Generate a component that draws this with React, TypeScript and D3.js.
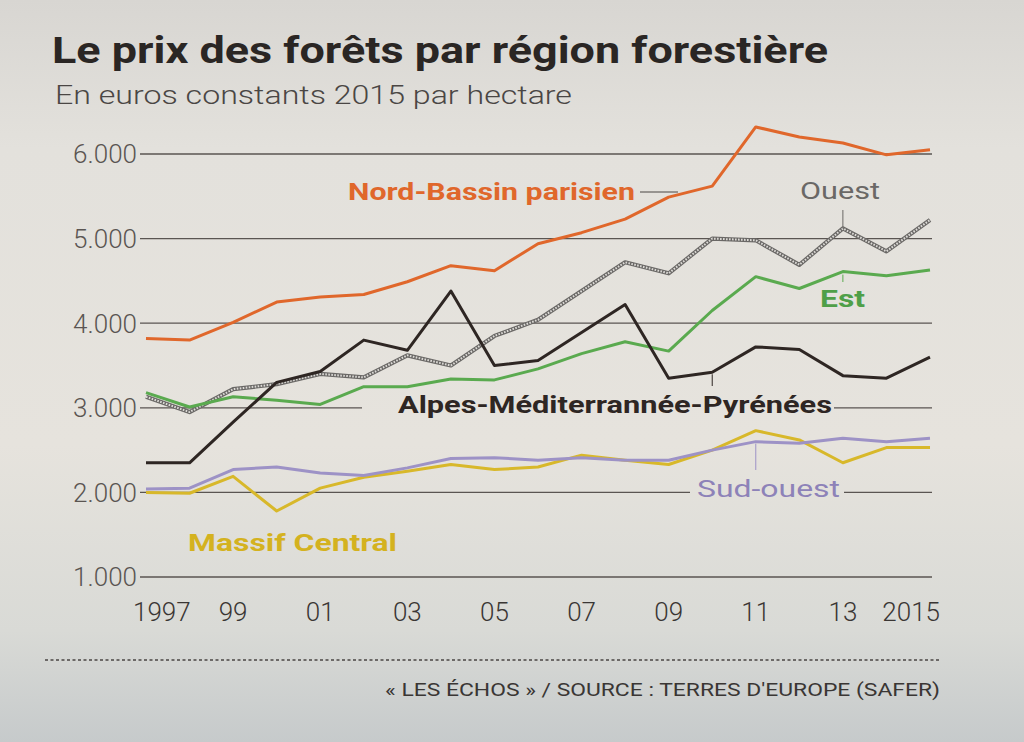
import React from "react";
import * as d3 from "d3";

const years = d3.range(1997, 2016);

const nordBassin = [3820, 3800, 4010, 4250, 4310, 4340, 4490, 4680, 4620, 4940, 5070, 5230, 5490, 5620, 6320, 6200, 6130, 5990, 6050];
const ouest = [3130, 2950, 3220, 3280, 3400, 3360, 3620, 3500, 3850, 4040, 4380, 4720, 4590, 5000, 4980, 4690, 5120, 4850, 5220];
const est = [3180, 3010, 3130, 3090, 3040, 3250, 3250, 3340, 3330, 3460, 3640, 3780, 3670, 4150, 4550, 4410, 4610, 4560, 4630];
const alpes = [2350, 2350, 2830, 3300, 3430, 3800, 3680, 4380, 3500, 3560, 3890, 4220, 3350, 3420, 3720, 3690, 3380, 3350, 3600];
const sudOuest = [2040, 2050, 2270, 2300, 2230, 2200, 2290, 2400, 2410, 2380, 2410, 2380, 2380, 2500, 2600, 2580, 2640, 2600, 2640];
const massifCentral = [2000, 1990, 2190, 1780, 2050, 2180, 2250, 2330, 2270, 2300, 2440, 2380, 2330, 2500, 2730, 2620, 2350, 2530, 2530];

const yTicks = [1000, 2000, 3000, 4000, 5000, 6000];
const yTickLabels = ["1.000", "2.000", "3.000", "4.000", "5.000", "6.000"];
const xTicks = [1997, 1999, 2001, 2003, 2005, 2007, 2009, 2011, 2013, 2015];
const xTickLabels = ["1997", "99", "01", "03", "05", "07", "09", "11", "13", "2015"];

const title = "Le prix des forêts par région forestière";
const subtitle = "En euros constants 2015 par hectare";
const source = "« LES ÉCHOS » / SOURCE : TERRES D'EUROPE (SAFER)";

const FONT = "Roboto, 'Open Sans', 'DejaVu Sans', sans-serif";

export default function App() {
  const W = 1024, H = 742;
  const x = d3.scaleLinear().domain([1997, 2015]).range([146, 930]);
  const y = d3.scaleLinear().domain([1000, 6000]).range([577, 154]);
  const line = d3.line<number>().x((_, i) => x(years[i])).y((d) => y(d));

  const gridX0 = 140, gridX1 = 932;

  const series = [
    { data: massifCentral, color: "#d8b82a", w: 3 },
    { data: sudOuest, color: "#9d92c6", w: 3 },
    { data: est, color: "#5aaa4f", w: 3 },
    { data: alpes, color: "#2e2623", w: 3 },
    { data: nordBassin, color: "#e0672b", w: 3 },
  ];

  return (
    <svg width={W} height={H} style={{ display: "block", position: "absolute", left: 0, top: 0 }}>
      <defs>
        <linearGradient id="bg" gradientUnits="userSpaceOnUse" x1="0" y1="0" x2="0" y2="742">
          <stop offset="0" stopColor="#d8d6d2" />
          <stop offset="0.2" stopColor="#e3e1dc" />
          <stop offset="0.6" stopColor="#e6e3dd" />
          <stop offset="0.85" stopColor="#d9dad6" />
          <stop offset="1" stopColor="#c6cacb" />
        </linearGradient>
      </defs>
      <rect x={0} y={0} width={W} height={H} fill="url(#bg)" />

      <text x={52} y={63} fontFamily={FONT} fontWeight={700} fontSize={37} fill="#2a2624" textLength={776} lengthAdjust="spacingAndGlyphs">
        {title}
      </text>
      <text x={55} y={104} fontFamily={FONT} fontWeight={300} fontSize={25} fill="#4a4644" textLength={517} lengthAdjust="spacingAndGlyphs">
        {subtitle}
      </text>

      {/* gridlines */}
      {yTicks.map((t, i) => (
        <g key={t}>
          <line x1={gridX0} x2={gridX1} y1={y(t)} y2={y(t)} stroke="#5a5552" strokeWidth={1.3} />
          <text x={137} y={y(t)} dy="0.36em" textAnchor="end" fontFamily={FONT} fontWeight={300} fontSize={26} fill="#5a5552">
            {yTickLabels[i]}
          </text>
        </g>
      ))}

      {/* x tick labels */}
      {xTicks.map((t, i) => {
        const anchor = i === 0 ? "start" : i === xTicks.length - 1 ? "end" : "middle";
        const xx = i === 0 ? x(t) - 13 : i === xTicks.length - 1 ? x(t) + 10 : x(t);
        return (
          <text key={t} x={xx} y={612} dy="0.36em" textAnchor={anchor} fontFamily={FONT} fontWeight={300} fontSize={26} fill="#3a3634">
            {xTickLabels[i]}
          </text>
        );
      })}

      {/* gaps in gridlines for labels */}
      <rect x={362} y={y(3000) - 8} width={472} height={16} fill="url(#bg)" />
      <rect x={690} y={y(2000) - 8} width={154} height={16} fill="url(#bg)" />

      {/* Ouest hatched line */}
      <path d={line(ouest) || ""} fill="none" stroke="#6a6866" strokeWidth={4.2} strokeLinejoin="round" />
      <path d={line(ouest) || ""} fill="none" stroke="#dcdad6" strokeWidth={2} strokeDasharray="1.6,1.4" strokeLinejoin="round" />

      {series.map((s, i) => (
        <path key={i} d={line(s.data) || ""} fill="none" stroke={s.color} strokeWidth={s.w} strokeLinejoin="round" />
      ))}

      {/* leader ticks */}
      <line x1={640} x2={678} y1={192} y2={192} stroke="#4a4644" strokeWidth={1} />
      <line x1={x(2013)} x2={x(2013)} y1={210} y2={y(5120)} stroke="#6a6866" strokeWidth={1} />
      <line x1={x(2013)} x2={x(2013)} y1={y(4610) + 3} y2={282} stroke="#5aaa4f" strokeWidth={1} />
      <line x1={x(2010)} x2={x(2010)} y1={y(3420) + 2} y2={386} stroke="#2e2623" strokeWidth={1} />
      <line x1={x(2011)} x2={x(2011)} y1={y(2600) + 2} y2={470} stroke="#9d92c6" strokeWidth={1} />

      {/* series labels */}
      <text x={348} y={192} dy="0.36em" fontFamily={FONT} fontWeight={700} fontSize={23} fill="#e0672b" textLength={287} lengthAdjust="spacingAndGlyphs">
        Nord-Bassin parisien
      </text>
      <text x={800} y={191} dy="0.36em" fontFamily={FONT} fontWeight={400} fontSize={23} fill="#6a6866" textLength={80} lengthAdjust="spacingAndGlyphs">
        Ouest
      </text>
      <text x={820} y={299} dy="0.36em" fontFamily={FONT} fontWeight={700} fontSize={23} fill="#4f9f48" textLength={45} lengthAdjust="spacingAndGlyphs">
        Est
      </text>
      <text x={398} y={404} dy="0.36em" fontFamily={FONT} fontWeight={700} fontSize={24} fill="#2e2623" textLength={434} lengthAdjust="spacingAndGlyphs">
        Alpes-Méditerrannée-Pyrénées
      </text>
      <text x={697} y={489} dy="0.36em" fontFamily={FONT} fontWeight={400} fontSize={23} fill="#8d82b8" textLength={143} lengthAdjust="spacingAndGlyphs">
        Sud-ouest
      </text>
      <text x={188} y={543} dy="0.36em" fontFamily={FONT} fontWeight={700} fontSize={23} fill="#d4b21f" textLength={209} lengthAdjust="spacingAndGlyphs">
        Massif Central
      </text>

      {/* footer */}
      <line x1={45} x2={940} y1={660} y2={660} stroke="#4a4644" strokeWidth={1.5} strokeDasharray="3,2.5" />
      <text x={940} y={690} dy="0.36em" textAnchor="end" fontFamily={FONT} fontSize={18} fill="#3a3634" textLength={555} lengthAdjust="spacingAndGlyphs">
        {source}
      </text>
    </svg>
  );
}
